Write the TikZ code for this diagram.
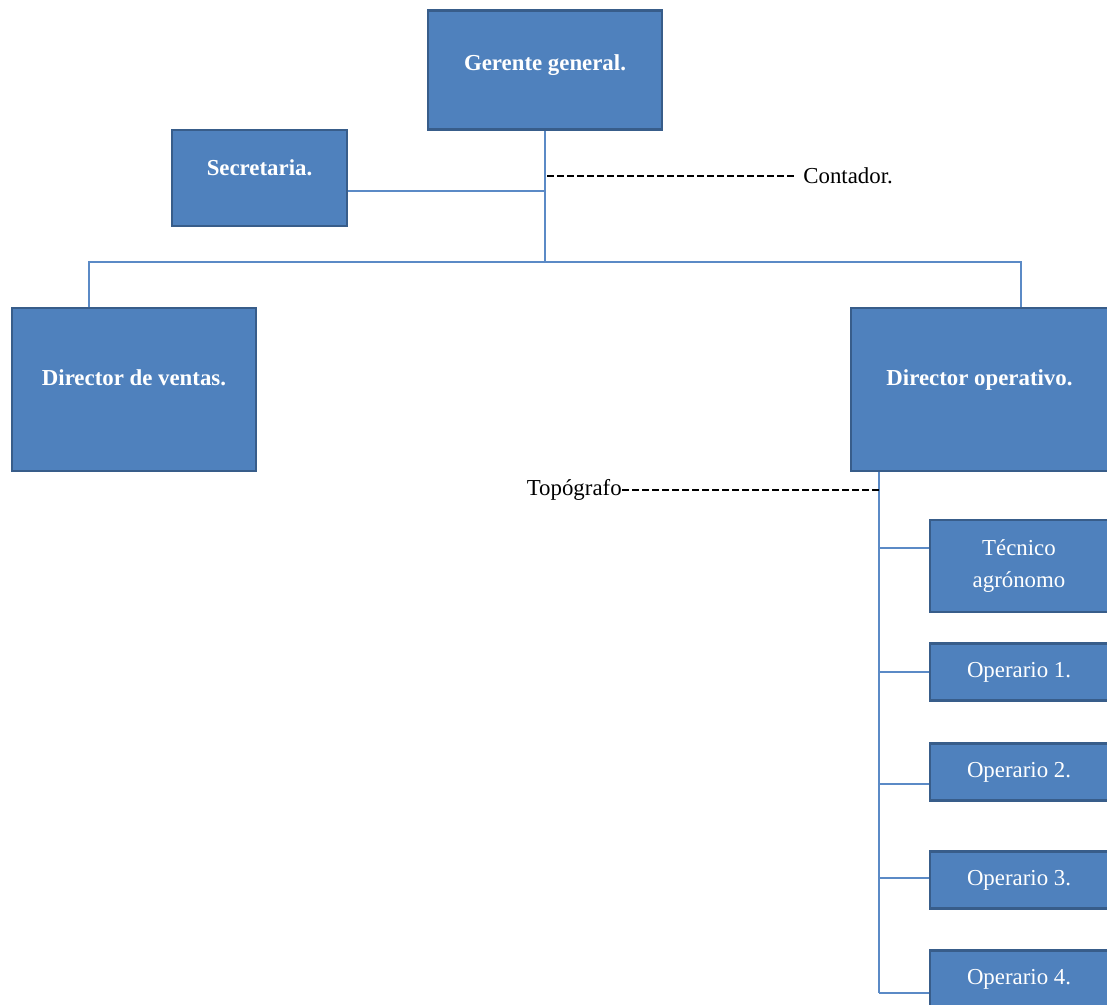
\documentclass[tikz,border=0pt]{standalone}
\usepackage{fontspec}
\setmainfont{Liberation Serif}
\usetikzlibrary{calc,positioning}
\definecolor{BoxFill}{HTML}{4F81BD}
\definecolor{BoxLine}{HTML}{385D8A}
\definecolor{LinkBlue}{HTML}{5B8AC6}

\begin{document}
\begin{tikzpicture}[x=0.02cm, y=-0.02cm,
    every node/.style={font=\fontsize{13}{18}\selectfont},
    orgbox/.style={rectangle, fill=BoxFill, draw=BoxLine, line width=1.2pt,
                   text=white, align=center, inner sep=0pt},
    headbox/.style={orgbox, font=\fontsize{13}{18}\selectfont\bfseries},
    link/.style={LinkBlue, line width=0.8pt},
    dashln/.style={black, line width=0.7pt, dash pattern=on 4pt off 1.7pt}]
  \useasboundingbox (0,0) rectangle (1107,1005);

  % upper level
  \node[headbox, minimum width=4.68cm, minimum height=2.38cm,
        text height=8pt, text depth=8pt] (ger) at (545,70) {Gerente general.};
  \node[headbox, minimum width=3.5cm, minimum height=1.92cm,
        text height=8pt, text depth=10.4pt] (sec) at (259.5,178) {Secretaria.};
  \node[headbox, minimum width=4.88cm, minimum height=3.26cm,
        text height=8pt, text depth=12.6pt] (dv) at (134,389.5) {Director de ventas.};
  \node[headbox, minimum width=5.14cm, minimum height=3.26cm,
        text height=8pt, text depth=12.6pt] (dop) at (979.5,389.5) {Director operativo.};

  \coordinate (hub) at (545,262);
  \draw[link] (ger.south) -- (hub);
  \draw[link] ($(dv.north west)+(78,0)$) |- (hub) -| ($(dop.north west)+(171,0)$);
  \coordinate (secjoin) at ($(sec.east)+(0,13)$);
  \draw[link] (secjoin) -- (secjoin -| hub);

  \node[anchor=west, inner xsep=0pt] (cont) at (803,176) {Contador.};
  \draw[dashln, shorten >=4.5pt] (cont.west -| hub) ++(2,0) -- (cont.west);

  % operative branch
  \coordinate (opbus) at ($(dop.south west)+(29,0)$);
  \draw[link] (opbus) -- (opbus |- 0,993);

  \node[anchor=east, inner xsep=0pt] (topo) at (622,490) {Topógrafo};
  \draw[dashln] (topo.east) -- (topo.east -| opbus);

  \node[orgbox, minimum width=3.56cm, minimum height=1.84cm]
        (tec) at (1019,566) {Técnico\\agrónomo};
  \draw[link] (opbus |- 0,548) -- (tec.west |- 0,548);

  \foreach \i/\y/\by in {1/672/672, 2/772/784, 3/880/878, 4/979/993}{
    \node[orgbox, minimum width=3.56cm, minimum height=1.14cm]
          (op\i) at (1019,\y) {Operario \i.};
    \draw[link] (opbus |- 0,\by) -- (op\i.west |- 0,\by);
  }
\end{tikzpicture}
\end{document}
